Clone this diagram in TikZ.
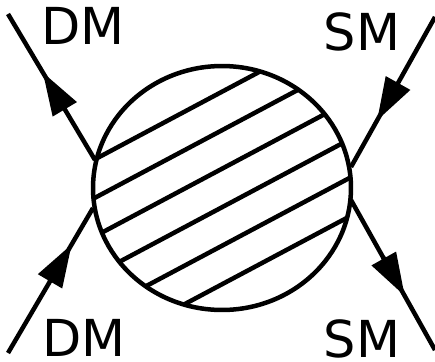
\documentclass[tikz,border=0pt]{standalone}
\usepackage{fontspec}
\setmainfont{DejaVu Sans}
\usetikzlibrary{arrows.meta,calc,shapes.geometric}

\begin{document}
\begin{tikzpicture}[
    x=0.02cm, y=-0.02cm,
    leg/.style={line width=0.09cm},
    head/.style={line width=0.09cm, -{Triangle[length=0.86cm, width=0.54cm]}},
    hatch/.style={line width=0.09cm},
    blob/.style={ellipse, draw, line width=0.09cm, inner sep=0pt,
                 minimum width=5.16cm, minimum height=4.88cm},
    tag/.style={inner sep=0pt, anchor=base, text depth=0pt,
                font=\fontsize{29}{34}\selectfont}
]
    \useasboundingbox (0,0) rectangle (435,361);

    % hatching inside the blob
    \begin{scope}
        \clip (222,188) ellipse [x radius=129, y radius=122];
        \begin{scope}[shift={(222,188)}, rotate=28]
            \foreach \k in {-85,-51,-17,17,51,85}
                \draw[hatch] (-160,\k) -- (160,\k);
        \end{scope}
    \end{scope}

    \node[blob] (blob) at (222,188) {};

    % free ends and junctions
    \coordinate (dmA) at (8,14);
    \coordinate (dmB) at (8,353);
    \coordinate (smA) at (435,17);
    \coordinate (smB) at (435,350);
    \coordinate (jA) at (95,160);
    \coordinate (jB) at (93,208);
    \coordinate (jC) at (351,167);
    \coordinate (jD) at (351,200);

    \draw[leg] (dmA) -- (jA);
    \draw[leg] (dmB) -- (jB);
    \draw[leg] (smA) -- (jC);
    \draw[leg] (smB) -- (jD);

    \draw[head] ($(jA)!0.36!(dmA)$) -- ($(jA)!0.60!(dmA)$);
    \draw[head] ($(dmB)!0.49!(jB)$) -- ($(dmB)!0.75!(jB)$);
    \draw[head] ($(smA)!0.45!(jC)$) -- ($(smA)!0.69!(jC)$);
    \draw[head] ($(jD)!0.38!(smB)$) -- ($(jD)!0.64!(smB)$);

    \node[tag] (tDMa) at (83,45) {DM};
    \node[tag] (tSMa) at (362,51) {SM};
    \node[tag] (tDMb) at (84,356) {DM};
    \node[tag] (tSMb) at (362,357) {SM};
\end{tikzpicture}
\end{document}
